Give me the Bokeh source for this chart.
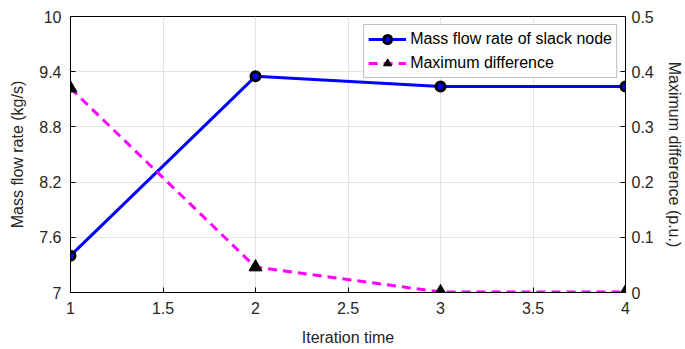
from bokeh.plotting import figure
from bokeh.models import Range1d, LinearAxis, FixedTicker, Legend, LegendItem
from bokeh.embed import file_html
from bokeh.resources import INLINE

iterations = [1, 2, 3, 4]
mass_flow = [7.40, 9.35, 9.24, 9.24]
max_diff = [0.37, 0.046, 0.001, 0.001]

x_ticks = [1, 1.5, 2, 2.5, 3, 3.5, 4]
x_tick_labels = ["1", "1.5", "2", "2.5", "3", "3.5", "4"]
left_ticks = [7, 7.6, 8.2, 8.8, 9.4, 10]
left_tick_labels = ["7", "7.6", "8.2", "8.8", "9.4", "10"]
right_ticks = [0, 0.1, 0.2, 0.3, 0.4, 0.5]
right_tick_labels = ["0", "0.1", "0.2", "0.3", "0.4", "0.5"]

FONT = "Liberation Sans"

p = figure(width=685, height=349, output_backend="svg", toolbar_location=None,
           x_range=Range1d(1, 4), y_range=Range1d(7, 10),
           min_border_left=70, min_border_right=60, min_border_top=16, min_border_bottom=57)
p.extra_y_ranges = {"diff": Range1d(0, 0.5)}

p.outline_line_color = "black"
p.outline_line_width = 1
p.background_fill_color = "white"
p.border_fill_color = "white"

def style_axis(ax, ticks, labels):
    ax.ticker = FixedTicker(ticks=ticks)
    ax.major_label_overrides = {t: l for t, l in zip(ticks, labels)}
    ax.major_tick_in = 5
    ax.major_tick_out = 0
    ax.minor_tick_in = 0
    ax.minor_tick_out = 0
    ax.axis_line_color = "black"
    ax.major_tick_line_color = "black"
    ax.major_label_text_font = FONT
    ax.major_label_text_font_size = "16px"
    ax.major_label_text_color = "#262626"
    ax.axis_label_text_font = FONT
    ax.axis_label_text_font_size = "16px"
    ax.axis_label_text_font_style = "normal"
    ax.axis_label_text_color = "#262626"

style_axis(p.xaxis[0], x_ticks, x_tick_labels)
p.xaxis[0].axis_label = "Iteration time"
p.xaxis[0].major_label_standoff = 9
p.xaxis[0].axis_label_standoff = 12
style_axis(p.yaxis[0], left_ticks, left_tick_labels)
p.yaxis[0].axis_label = "Mass flow rate (kg/s)"
p.yaxis[0].major_label_standoff = 9
p.yaxis[0].axis_label_standoff = 10

right_axis = LinearAxis(y_range_name="diff", axis_label="Maximum difference (p.u.)")
style_axis(right_axis, right_ticks, right_tick_labels)
right_axis.major_label_standoff = 6
right_axis.axis_label_standoff = 9
p.add_layout(right_axis, "right")

p.xgrid.ticker = FixedTicker(ticks=x_ticks)
p.ygrid.ticker = FixedTicker(ticks=left_ticks)
p.xgrid.grid_line_color = "#e3e3e3"
p.ygrid.grid_line_color = "#e3e3e3"

l1 = p.line(iterations, mass_flow, line_color="#0000ff", line_width=3)
m1 = p.scatter(iterations, mass_flow, marker="circle", size=9, fill_color="#0000ff",
               line_color="black", line_width=3)
l2 = p.line(iterations, max_diff, line_color="#ff00ff", line_width=3, line_dash="9 6",
            y_range_name="diff")
m2 = p.scatter(iterations, max_diff, marker="triangle", size=13, fill_color="black",
               line_color="black", y_range_name="diff")

legend = Legend(items=[LegendItem(label="Mass flow rate of slack node", renderers=[l1, m1]),
                       LegendItem(label="Maximum difference", renderers=[l2, m2])],
                location="top_right")
legend.label_text_font = FONT
legend.label_text_font_size = "16px"
legend.label_text_color = "black"
legend.border_line_color = "#7f7f7f"
legend.border_line_width = 1
legend.glyph_width = 38
legend.glyph_height = 20
legend.label_height = 20
legend.spacing = 4
legend.padding = 4
legend.margin = 8
legend.label_standoff = 4
legend.background_fill_alpha = 1
p.add_layout(legend)

open("out.html", "w").write(file_html(p, INLINE))
